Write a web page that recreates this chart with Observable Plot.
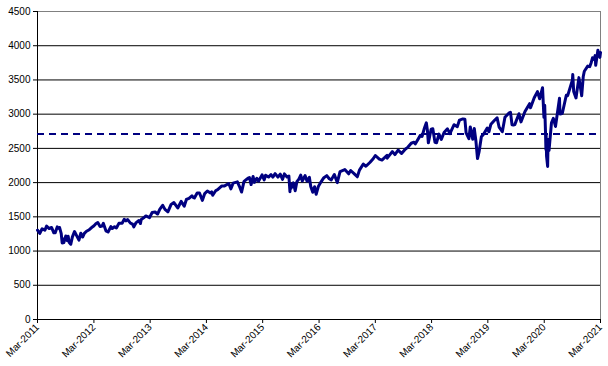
<!DOCTYPE html>
<html>
<head>
<meta charset="utf-8">
<script src="https://cdn.jsdelivr.net/npm/d3@7"></script>
<script src="https://cdn.jsdelivr.net/npm/@observablehq/plot@0.6"></script>
<style>
  html, body { margin: 0; padding: 0; background: white; }
</style>
</head>
<body>
<div id="chart"></div>
<script>
const dates = [
"2011-03-01","2011-03-16","2011-03-31","2011-04-18","2011-04-29","2011-05-16","2011-05-31","2011-06-15","2011-06-24","2011-07-07","2011-07-20","2011-07-22","2011-08-02","2011-08-08","2011-08-12","2011-08-19","2011-08-31","2011-09-09","2011-09-16","2011-09-22","2011-10-03","2011-10-13","2011-10-27","2011-11-09","2011-11-25","2011-12-07","2011-12-19","2011-12-30",
"2012-01-13","2012-01-31","2012-02-15","2012-02-29","2012-03-15","2012-03-26","2012-04-10","2012-04-23","2012-05-01","2012-05-18","2012-06-01","2012-06-19","2012-06-28","2012-07-13","2012-07-25","2012-08-10","2012-08-31","2012-09-14","2012-09-25","2012-10-05","2012-10-24","2012-11-07","2012-11-15","2012-11-30","2012-12-18","2012-12-28",
"2013-01-02","2013-01-18","2013-02-01","2013-02-25","2013-03-14","2013-04-02","2013-04-18","2013-05-03","2013-05-21","2013-06-05","2013-06-24","2013-07-15","2013-08-02","2013-08-27","2013-09-18","2013-10-08","2013-10-22","2013-11-08","2013-11-27","2013-12-05","2013-12-13","2013-12-31",
"2014-01-15","2014-02-03","2014-02-18","2014-03-07","2014-03-27","2014-04-04","2014-04-11","2014-05-01","2014-05-13","2014-06-09","2014-06-24","2014-07-24","2014-08-07","2014-08-21","2014-09-18","2014-10-01","2014-10-15","2014-10-31","2014-11-28","2014-12-05","2014-12-16","2014-12-29",
"2015-01-06","2015-01-22","2015-02-02","2015-02-25","2015-03-11","2015-03-20","2015-04-08","2015-04-24","2015-05-06","2015-05-21","2015-06-08","2015-06-23","2015-07-08","2015-07-20","2015-08-06","2015-08-18","2015-08-25","2015-08-27","2015-09-01","2015-09-16","2015-09-28","2015-10-09","2015-10-22","2015-11-03","2015-11-13","2015-12-01","2015-12-14","2015-12-29",
"2016-01-07","2016-01-20","2016-02-01","2016-02-11","2016-02-26","2016-03-15","2016-04-01","2016-04-20","2016-05-06","2016-05-19","2016-06-08","2016-06-27","2016-07-15","2016-08-15","2016-09-09","2016-09-22","2016-10-14","2016-11-04","2016-11-18","2016-12-13","2016-12-30",
"2017-01-26","2017-02-15","2017-03-01","2017-03-27","2017-04-13","2017-05-16","2017-05-17","2017-06-19","2017-07-06","2017-07-27","2017-08-18","2017-09-11","2017-09-29","2017-10-20","2017-11-07","2017-11-15","2017-12-18","2017-12-29",
"2018-01-12","2018-01-26","2018-02-02","2018-02-08","2018-02-26","2018-03-09","2018-03-23","2018-04-02","2018-04-18","2018-05-03","2018-05-21","2018-06-12","2018-06-28","2018-07-25","2018-08-15","2018-08-29","2018-09-20","2018-10-03","2018-10-11","2018-10-29","2018-11-07","2018-11-23","2018-12-03","2018-12-14","2018-12-24",
"2019-01-03","2019-01-18","2019-02-01","2019-02-25","2019-03-08","2019-03-21","2019-04-12","2019-04-30","2019-05-13","2019-06-03","2019-06-20","2019-07-15","2019-07-26","2019-08-05","2019-08-14","2019-08-23","2019-09-19","2019-10-02","2019-10-28","2019-11-27","2019-12-03","2019-12-27",
"2020-01-17","2020-01-31","2020-02-19","2020-02-28","2020-03-04","2020-03-09","2020-03-12","2020-03-13","2020-03-16","2020-03-23","2020-03-26","2020-04-01","2020-04-17","2020-04-29","2020-05-13","2020-06-08","2020-06-11","2020-06-26","2020-07-22","2020-07-31","2020-08-31","2020-09-02","2020-09-08","2020-09-23","2020-10-12","2020-10-30","2020-11-09","2020-11-16","2020-12-08","2020-12-21","2020-12-31",
"2021-01-08","2021-01-19","2021-01-25","2021-01-29","2021-02-12","2021-02-25","2021-03-01"
];
const closes = [
1306,1257,1326,1305,1364,1329,1345,1266,1268,1353,1326,1345,1254,1119,1179,1123,1219,1154,1216,1129,1099,1204,1285,1229,1159,1261,1205,1258,
1289,1312,1343,1366,1402,1416,1358,1366,1405,1295,1278,1357,1329,1356,1338,1405,1406,1465,1441,1460,1408,1394,1353,1416,1446,1402,
1462,1486,1513,1488,1563,1570,1541,1614,1669,1609,1573,1682,1709,1630,1725,1655,1754,1770,1807,1785,1775,1848,
1848,1741,1840,1878,1849,1865,1815,1884,1897,1951,1949,1987,1909,1992,2011,1946,1862,2018,2067,2075,1972,2090,
2003,2063,2020,2113,2040,2108,2081,2117,2080,2131,2080,2124,2047,2128,2083,2097,1868,1988,1914,1996,1881,2014,2052,2109,2023,2102,2021,2078,
1943,1859,1940,1829,1948,2015,2072,2102,2057,2040,2119,2000,2162,2190,2128,2177,2132,2085,2182,2271,2239,
2298,2349,2396,2342,2329,2400,2357,2453,2409,2475,2425,2488,2519,2575,2591,2565,2690,2674,
2786,2873,2762,2581,2780,2786,2588,2582,2708,2630,2733,2786,2716,2846,2818,2914,2931,2926,2728,2641,2814,2633,2790,2600,2351,
2448,2671,2707,2796,2743,2854,2907,2946,2812,2744,2954,3014,3026,2845,2840,2847,3006,2887,3039,3153,3093,3240,
3330,3225,3386,2954,3130,2747,2481,2711,2386,2237,2630,2470,2875,2940,2820,3232,3002,3009,3276,3271,3500,3580,3332,3237,3534,3270,3550,3627,3702,3694,3756,
3824,3799,3855,3714,3934,3829,3901
];
const xTickDates = ["2011-03-01","2012-03-01","2013-03-01","2014-03-01","2015-03-01","2016-03-01","2017-03-01","2018-03-01","2019-03-01","2020-03-01","2021-03-01"];
const yTicks = [0,500,1000,1500,2000,2500,3000,3500,4000,4500];
const gridValues = [500,1000,1500,2000,2500,3000,3500,4000];
const average = 2710;

const parse = d3.utcParse("%Y-%m-%d");
const data = dates.map((d, i) => ({date: parse(d), close: closes[i]}));
const xDomain = [parse(xTickDates[0]), parse(xTickDates[xTickDates.length - 1])];

const chart = Plot.plot({
  width: 608,
  height: 366,
  marginLeft: 37,
  marginRight: 8,
  marginTop: 11,
  marginBottom: 47,
  style: {fontFamily: "'Liberation Sans', Arial, sans-serif", fontSize: "10px", background: "white", color: "black", overflow: "visible"},
  x: {type: "utc", domain: xDomain},
  y: {domain: [0, 4500]},
  marks: [
    Plot.ruleY(gridValues, {stroke: "black", strokeWidth: 1}),
    Plot.ruleY([4500], {stroke: "#808080", strokeWidth: 1}),
    Plot.ruleX([xDomain[1]], {stroke: "#808080", strokeWidth: 1}),
    Plot.ruleX([xDomain[0]], {stroke: "black", strokeWidth: 1}),
    Plot.ruleY([0], {stroke: "black", strokeWidth: 1}),
    Plot.ruleY([average], {stroke: "#000080", strokeWidth: 2, strokeDasharray: "7,5"}),
    Plot.line(data, {x: "date", y: "close", stroke: "#000080", strokeWidth: 3, clip: false}),
    Plot.axisY(yTicks, {tickSize: 4, tickPadding: 3, label: null, tickFormat: d => String(d)}),
    Plot.axisX(xTickDates.map(parse), {tickSize: 4, tickPadding: 2, tickRotate: -45, label: null, tickFormat: d3.utcFormat("%b-%Y")})
  ]
});
document.getElementById("chart").appendChild(chart);
</script>
</body>
</html>
